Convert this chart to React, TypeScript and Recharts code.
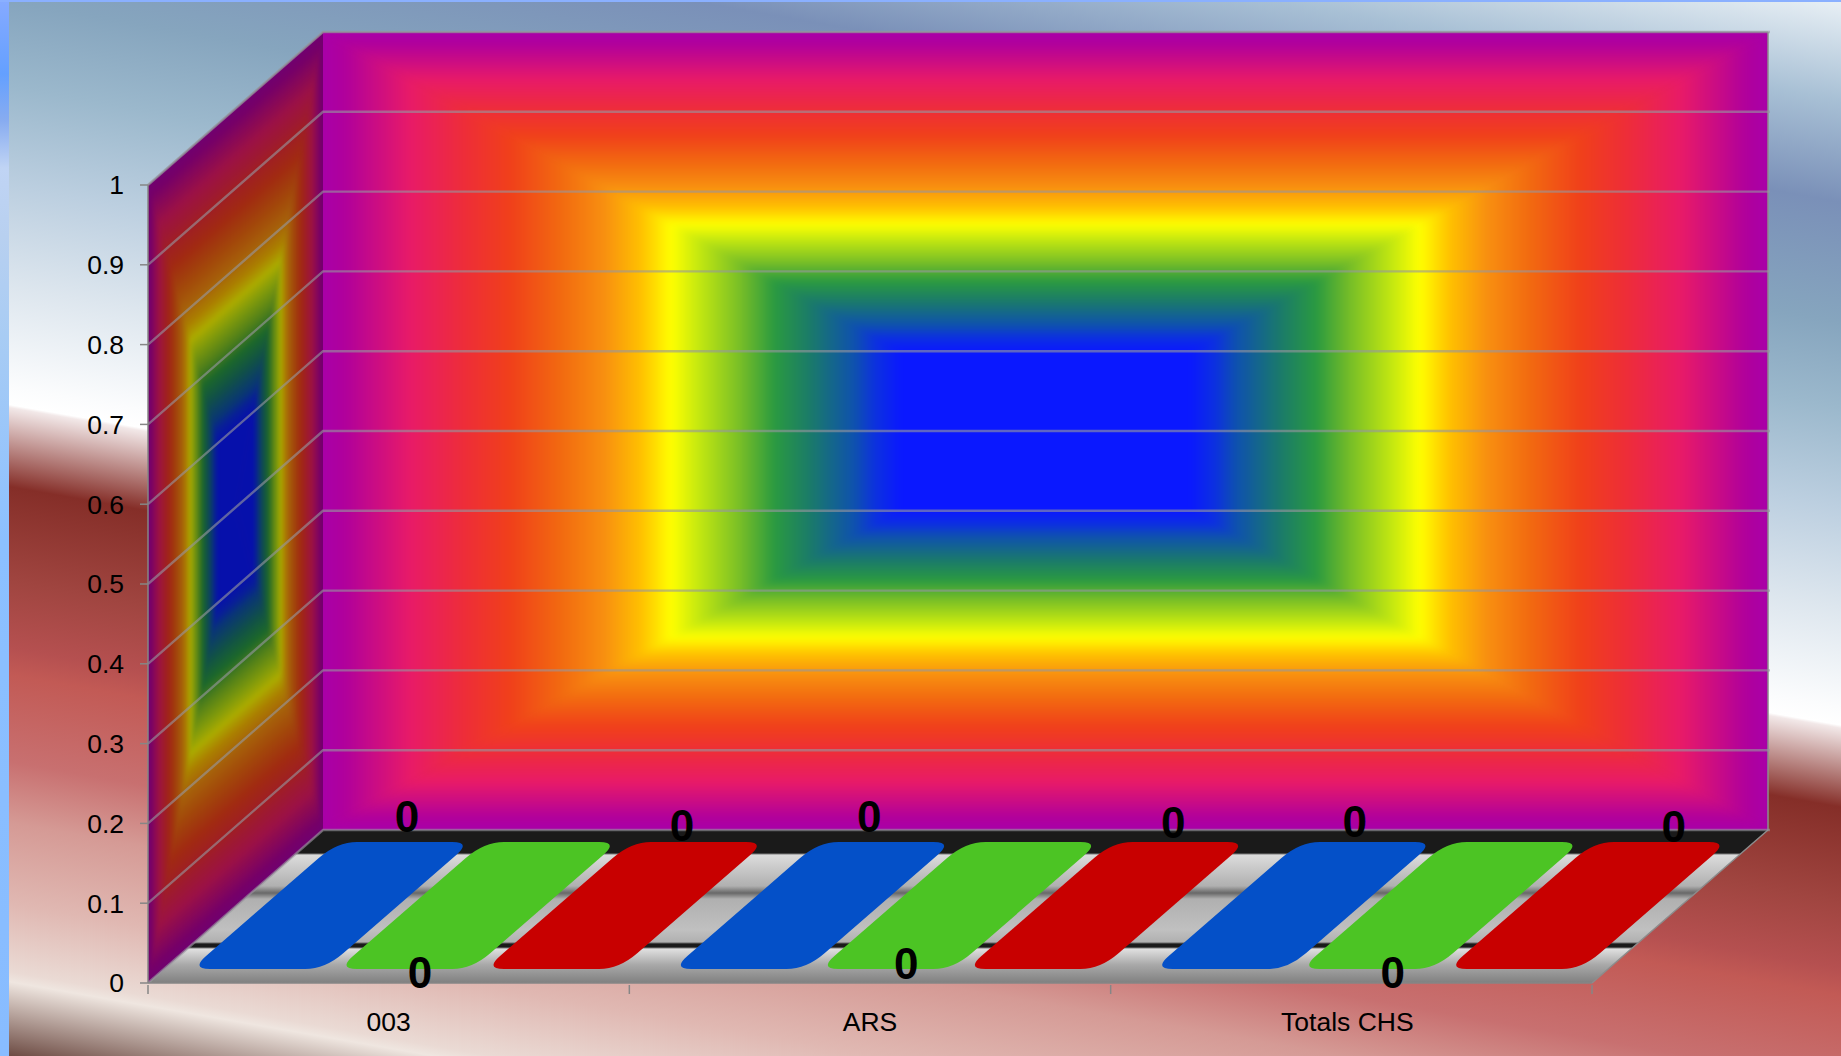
import { Bar, BarChart, LabelList, ReferenceLine, XAxis, YAxis } from 'recharts'

const categories = ['003', 'ARS', 'Totals CHS']
const blueValues = [0, 0, 0]
const greenValues = [0, 0, 0]
const redValues = [0, 0, 0]
const yTicks = [0, 0.1, 0.2, 0.3, 0.4, 0.5, 0.6, 0.7, 0.8, 0.9, 1]

// hand-placed "0" labels in the reference: [dx from bar centre, dy from baseline]
const blueLabelOffsets = [[165, -167], [146, -167], [150, -162]]
const greenLabelOffsets = [[31, -11], [36, -20], [41, -11]]
const redLabelOffsets = [[146, -158], [156, -161], [175, -157]]
const xTickNudge = [0, 0, -4]

const rows = categories.map((name, i) => ({
  name,
  blue: blueValues[i],
  green: greenValues[i],
  red: redValues[i],
}))

const W = 1841
const H = 1056
const LEFT = 148
const RIGHT = 1592
const TOP = 185
const BOTTOM = 983
const DEPTH_X = 176
const DEPTH_Y = 153
const SHEAR = DEPTH_X / DEPTH_Y
const FONT = '"Liberation Sans", Arial, sans-serif'

const wallStops: [number, string][] = [
  [0, '#a800a8'],
  [0.03, '#b0009c'],
  [0.12, '#e81a68'],
  [0.2, '#ee2e36'],
  [0.26, '#f0401a'],
  [0.33, '#f26a10'],
  [0.39, '#f89010'],
  [0.44, '#ffc000'],
  [0.482, '#ffff00'],
  [0.52, '#c4e810'],
  [0.58, '#74bc28'],
  [0.625, '#2a9a40'],
  [0.675, '#1a7a6a'],
  [0.737, '#0e50b0'],
  [0.765, '#0c30e0'],
  [0.8, '#0a18ff'],
  [1, '#0a18ff'],
]

const bgStops: [number, string][] = [
  [-330, '#eef4f8'],
  [-222, '#a8c0d5'],
  [-120, '#7a90b8'],
  [0, '#86a5be'],
  [85, '#9bb8cc'],
  [185, '#bccfe0'],
  [285, '#dde6ee'],
  [385, '#fbfcfd'],
  [403, '#ffffff'],
  [406, '#f2e8e8'],
  [485, '#852e28'],
  [580, '#a04540'],
  [646, '#b55050'],
  [673, '#c25a55'],
  [760, '#c87070'],
  [821, '#d59a95'],
  [902, '#e0b8b2'],
  [970, '#eadad4'],
  [980, '#efe6e0'],
  [1056, '#6a4840'],
]

const floorStops: [number, string][] = [
  [830, '#1a1a1a'],
  [853, '#1a1a1a'],
  [855, '#dcdcdc'],
  [886, '#b0b0b0'],
  [893, '#686868'],
  [899, '#b0b0b0'],
  [930, '#c0c0c0'],
  [942, '#b0b0b0'],
  [944, '#1a1a1a'],
  [947, '#1a1a1a'],
  [949, '#e0e0e0'],
  [965, '#a8a8a8'],
  [983, '#808080'],
]

const stripStops: [number, string][] = [
  [0, '#86aaff'],
  [74, '#64a0ff'],
  [121, '#88acf0'],
  [168, '#c0d4f4'],
  [236, '#b8d0f0'],
  [337, '#a8ccf4'],
  [540, '#8cc0ff'],
  [1056, '#88bcff'],
]

function stops(list: [number, string][]) {
  return list.map(([o, c]) => <stop key={o} offset={o} stopColor={c} />)
}

function RectGradient({ id, w, h, blur }: { id: string; w: number; h: number; blur: number }) {
  const g = (key: string, x1: number, y1: number, x2: number, y2: number) => (
    <linearGradient id={id + key} gradientUnits="userSpaceOnUse" x1={x1} y1={y1} x2={x2} y2={y2}>
      {stops(wallStops)}
    </linearGradient>
  )
  return (
    <>
      <defs>
        {g('top', 0, 0, 0, h / 2)}
        {g('bottom', 0, h, 0, h / 2)}
        {g('left', 0, 0, w / 2, 0)}
        {g('right', w, 0, w / 2, 0)}
        <clipPath id={id + 'clip'}>
          <rect width={w} height={h} />
        </clipPath>
        <filter id={id + 'blur'} x="-5%" y="-5%" width="110%" height="110%" colorInterpolationFilters="sRGB">
          <feGaussianBlur stdDeviation={blur} />
        </filter>
      </defs>
      <g clipPath={`url(#${id}clip)`}>
        <rect width={w} height={h} fill="#a800a8" />
        <g filter={`url(#${id}blur)`}>
          <polygon points={`0,0 ${w},0 ${w / 2},${h / 2 + 1} ${w / 2 - 1},${h / 2 + 1}`} fill={`url(#${id}top)`} />
          <polygon points={`0,${h} ${w},${h} ${w / 2},${h / 2 - 1} ${w / 2 - 1},${h / 2 - 1}`} fill={`url(#${id}bottom)`} />
          <polygon points={`0,0 0,${h} ${w / 2},${h / 2}`} fill={`url(#${id}left)`} />
          <polygon points={`${w},0 ${w},${h} ${w / 2},${h / 2}`} fill={`url(#${id}right)`} />
        </g>
      </g>
    </>
  )
}

function Backdrop() {
  const wallW = RIGHT + DEPTH_X - (LEFT + DEPTH_X - 1)
  const wallH = BOTTOM - TOP
  const tMin = bgStops[0][0]
  const tMax = bgStops[bgStops.length - 1][0]
  const span = (tMax - tMin) / 1.0306
  return (
    <svg width={W} height={H} style={{ position: 'absolute', left: 0, top: 0 }}>
      <defs>
        <linearGradient
          id="bg"
          gradientUnits="userSpaceOnUse"
          x1={0}
          y1={tMin}
          x2={-0.175 * span}
          y2={tMin + span}
        >
          {bgStops.map(([t, c]) => (
            <stop key={t} offset={(t - tMin) / (tMax - tMin)} stopColor={c} />
          ))}
        </linearGradient>
        <linearGradient id="floor" gradientUnits="userSpaceOnUse" x1={0} y1={830} x2={0} y2={983}>
          {floorStops.map(([y, c]) => (
            <stop key={y} offset={(y - 830) / 153} stopColor={c} />
          ))}
        </linearGradient>
        <linearGradient id="strip" gradientUnits="userSpaceOnUse" x1={0} y1={0} x2={0} y2={H}>
          {stripStops.map(([y, c]) => (
            <stop key={y} offset={y / H} stopColor={c} />
          ))}
        </linearGradient>
      </defs>
      <rect width={W} height={H} fill="url(#bg)" />
      <rect width={9} height={H} fill="url(#strip)" />
      <rect width={W} height={2} fill="#8ab0ff" />
      <polygon
        points={`${LEFT},${BOTTOM} ${RIGHT},${BOTTOM} ${RIGHT + DEPTH_X},${BOTTOM - DEPTH_Y} ${LEFT + DEPTH_X - 1},${BOTTOM - DEPTH_Y}`}
        fill="url(#floor)"
      />
      <g transform={`matrix(1 ${-DEPTH_Y / (DEPTH_X - 1)} 0 1 ${LEFT} ${TOP})`}>
        <RectGradient id="side" w={DEPTH_X - 1} h={wallH} blur={2} />
        <rect width={DEPTH_X - 1} height={wallH} fill="#000" opacity={0.33} />
      </g>
      <g transform={`translate(${LEFT + DEPTH_X - 1} ${TOP - DEPTH_Y})`}>
        <RectGradient id="wall" w={wallW} h={wallH} blur={3.5} />
      </g>
      <path
        d={`M${RIGHT + DEPTH_X} ${TOP - DEPTH_Y}V${BOTTOM - DEPTH_Y}L${RIGHT} ${BOTTOM}`}
        fill="none"
        stroke="#8c8c8c"
        strokeWidth={1.5}
      />
      <path
        d={`M${LEFT} ${TOP}L${LEFT + DEPTH_X - 1} ${TOP - DEPTH_Y}H${RIGHT + DEPTH_X}`}
        fill="none"
        stroke="#8c8c8c"
        strokeOpacity={0.6}
        strokeWidth={1.5}
      />
    </svg>
  )
}

function GridLine3D(props: any) {
  const { x1, y1, x2 } = props
  const backY = y1 - DEPTH_Y
  return (
    <path
      d={`M${x1} ${y1}L${x1 + DEPTH_X - 1} ${backY}H${x2 + DEPTH_X + 2}`}
      fill="none"
      stroke="#96969e"
      strokeOpacity={0.62}
      strokeWidth={2.4}
    />
  )
}

function FloorBar(props: any) {
  const { x, y, width, fill } = props
  const at = (u: number, d: number) => `${u + d * SHEAR} ${y - d}`
  const near = 14
  const far = 141
  // the obtuse corners of the sheared footprint round off more than the sharp ones
  const ox = 20
  const od = 16
  const ax = 19
  const ad = 13
  const r = x + width
  const d = [
    `M${at(x + ax, near)}`,
    `L${at(r - ox, near)}`,
    `Q${at(r, near)} ${at(r, near + od)}`,
    `L${at(r, far - ad)}`,
    `Q${at(r, far)} ${at(r - ax, far)}`,
    `L${at(x + ox, far)}`,
    `Q${at(x, far)} ${at(x, far - od)}`,
    `L${at(x, near + ad)}`,
    `Q${at(x, near)} ${at(x + ax, near)}`,
    'Z',
  ].join('')
  return <path d={d} fill={fill} />
}

function zeroLabel(offsets: number[][]) {
  return (props: any) => {
    const { x, y, width, index, value } = props
    const [dx, dy] = offsets[index]
    return (
      <text
        x={x + width / 2 + dx}
        y={y + dy}
        textAnchor="middle"
        dominantBaseline="central"
        fontFamily={FONT}
        fontWeight="bold"
        fontSize={44}
        fill="#000"
      >
        {value}
      </text>
    )
  }
}

// ticks sit on the category boundaries, not under the labels
function CategoryTick(props: any) {
  const { x, y, payload, index } = props
  const half = (RIGHT - LEFT) / categories.length / 2
  const edges = index === categories.length - 1 ? [x - half, x + half] : [x - half]
  return (
    <g>
      {edges.map((ex) => (
        <line key={ex} x1={ex} x2={ex} y1={y} y2={y + 9} stroke="#868686" strokeWidth={1.5} />
      ))}
      <text x={x + xTickNudge[index]} y={y + 27} dy="0.71em" textAnchor="middle" fontFamily={FONT} fontSize={26.5} fill="#000">
        {payload.value}
      </text>
    </g>
  )
}

const tickStyle = { fontFamily: FONT, fontSize: 26.5, fill: '#000' }
const axisStroke = { stroke: '#868686', strokeWidth: 1.5 }

export default function App() {
  return (
    <div style={{ position: 'absolute', left: 0, top: 0, width: W, height: H, overflow: 'hidden' }}>
      <Backdrop />
      <div style={{ position: 'absolute', left: 0, top: 0 }}>
        <BarChart
          width={W}
          height={H}
          data={rows}
          margin={{ top: TOP, left: LEFT - 100, right: W - RIGHT, bottom: 0 }}
          barSize={134}
          barGap={13}
        >
          <XAxis
            dataKey="name"
            height={H - BOTTOM}
            tick={CategoryTick}
            tickSize={0}
            tickLine={false}
            axisLine={axisStroke}
            interval={0}
          />
          <YAxis
            width={100}
            domain={[0, 1]}
            ticks={yTicks}
            tick={tickStyle}
            tickSize={8}
            tickMargin={16}
            tickLine={axisStroke}
            axisLine={axisStroke}
            interval={0}
          />
          {yTicks.map((v) => (
            <ReferenceLine key={v} y={v} shape={GridLine3D} ifOverflow="visible" />
          ))}
          <Bar dataKey="blue" fill="#0450c8" shape={FloorBar} isAnimationActive={false}>
            <LabelList dataKey="blue" content={zeroLabel(blueLabelOffsets)} />
          </Bar>
          <Bar dataKey="green" fill="#4cc424" shape={FloorBar} isAnimationActive={false}>
            <LabelList dataKey="green" content={zeroLabel(greenLabelOffsets)} />
          </Bar>
          <Bar dataKey="red" fill="#c80000" shape={FloorBar} isAnimationActive={false}>
            <LabelList dataKey="red" content={zeroLabel(redLabelOffsets)} />
          </Bar>
        </BarChart>
      </div>
    </div>
  )
}
